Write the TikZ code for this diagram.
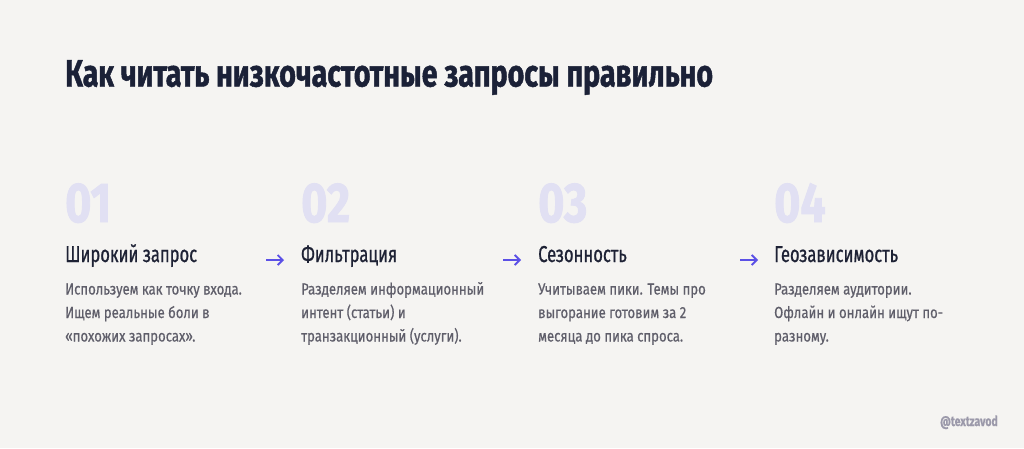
\documentclass[tikz,border=0pt]{standalone}
\usepackage{fontspec}
\setmainfont[FakeStretch=0.75]{Fira Sans}
\newfontfamily\titlefont[FakeStretch=0.752,FakeBold=1.2]{Fira Sans}
\newfontfamily\bodyfont[FakeStretch=0.82,FakeBold=0.6]{Fira Sans}
\newfontfamily\headfont[FakeStretch=0.72,FakeBold=0.8]{Fira Sans}
\newfontfamily\numfont[FakeStretch=0.8,FakeBold=1.5]{Fira Sans}
\newfontfamily\footfont[FakeStretch=0.75,FakeBold=0.8]{Fira Sans}
\usetikzlibrary{arrows.meta}
\definecolor{bg}{HTML}{F5F4F2}
\definecolor{titlec}{HTML}{1B2137}
\definecolor{headc}{HTML}{1E2235}
\definecolor{bodyc}{HTML}{5F5E6A}
\definecolor{numc}{HTML}{E1E0F3}
\definecolor{arrc}{HTML}{5B50E6}
\definecolor{footc}{HTML}{9B99AA}
\tikzset{
  x=1pt,y=-1pt,
  titletext/.style={anchor=base west,inner sep=0pt,text=titlec,font=\titlefont\fontsize{38}{44}\selectfont\bfseries},
  numtext/.style={anchor=base west,inner sep=0pt,text=numc,font=\numfont\fontsize{56}{60}\selectfont\bfseries},
  headtext/.style={anchor=base west,inner sep=0pt,text=headc,font=\headfont\fontsize{23}{28}\selectfont},
  bodytext/.style={anchor=base west,inner sep=0pt,text=bodyc,align=left,font=\bodyfont\fontsize{16}{23.5}\selectfont},
  foottext/.style={anchor=base east,inner sep=0pt,text=footc,font=\footfont\fontsize{14}{16}\selectfont\bfseries},
  flowarrow/.style={draw=arrc,line width=1.8pt,-{Straight Barb[length=5pt,width=10pt]}}
}
\begin{document}
\begin{tikzpicture}
\fill[bg] (0,0) rectangle (1024,448);
\useasboundingbox (0,0) rectangle (1024,448);
\node[titletext] (title) at (65,86.5) {Как читать низкочастотные запросы правильно};
% columns
\node[numtext] (n1) at (65,222) {01};
\node[numtext] (n2) at (301,222) {02};
\node[numtext] (n3) at (538,222) {03};
\node[numtext] (n4) at (774,222) {04};
\node[headtext] (h1) at (65,262) {Широкий запрос};
\node[headtext] (h2) at (301,262) {Фильтрация};
\node[headtext] (h3) at (538,262) {Сезонность};
\node[headtext] (h4) at (774,262) {Геозависимость};
\node[bodytext] (b1) at (65,341.5) {Используем как точку входа.\\Ищем реальные боли в\\«похожих запросах».};
\node[bodytext] (b2) at (301,341.5) {Разделяем информационный\\интент (статьи) и\\транзакционный (услуги).};
\node[bodytext] (b3) at (538,341.5) {Учитываем пики. Темы про\\выгорание готовим за 2\\месяца до пика спроса.};
\node[bodytext] (b4) at (774,341.5) {Разделяем аудитории.\\Офлайн и онлайн ищут по-\\разному.};
\coordinate (a1s) at (266,260); \coordinate (a1e) at (284,260);
\coordinate (a2s) at (503,260); \coordinate (a2e) at (521,260);
\coordinate (a3s) at (740,260); \coordinate (a3e) at (758,260);
\draw[flowarrow] (a1s) -- (a1e);
\draw[flowarrow] (a2s) -- (a2e);
\draw[flowarrow] (a3s) -- (a3e);
\node[foottext] (foot) at (998,426) {@textzavod};
\end{tikzpicture}
\end{document}
